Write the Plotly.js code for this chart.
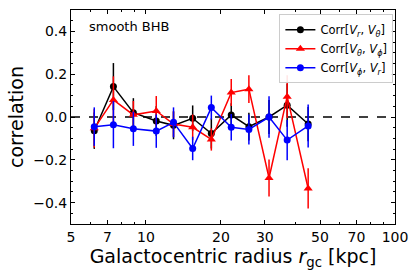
<!DOCTYPE html>
<html>
<head>
<meta charset="utf-8">
<script src="https://cdn.plot.ly/plotly-3.0.1.min.js"></script>
<style>html,body{margin:0;padding:0;background:#fff;}#plot{width:416px;height:278px;}</style>
</head>
<body>
<div id="plot"></div>
<script>
const radius = [6.2, 7.4, 8.9, 11.0, 12.9, 15.4, 18.3, 22.0, 25.9, 31.2, 36.9, 44.8];

const corrRT = [-0.064, 0.142, 0.020, -0.019, -0.039, -0.006, -0.077, 0.009, -0.045, 0.000, 0.055, -0.033];
const errRT  = [0.085, 0.110, 0.068, 0.070, 0.065, 0.060, 0.070, 0.055, 0.065, 0.080, 0.100, 0.080];

const corrTP = [-0.053, 0.080, 0.010, 0.028, -0.033, -0.048, -0.105, 0.114, 0.130, -0.285, 0.095, -0.334];
const errTP  = [0.090, 0.110, 0.065, 0.070, 0.060, 0.060, 0.052, 0.063, 0.065, 0.086, 0.100, 0.094];

const corrPR = [-0.045, -0.036, -0.055, -0.066, -0.025, -0.147, 0.044, -0.048, -0.058, 0.000, -0.108, -0.042];
const errPR  = [0.090, 0.110, 0.080, 0.078, 0.070, 0.055, 0.056, 0.062, 0.070, 0.097, 0.094, 0.100];

const xTicks = [5, 7, 10, 20, 30, 50, 70, 100];
const xMinor = [6, 8, 9, 40, 60, 80, 90];
const yTicks = [-0.4, -0.2, 0.0, 0.2, 0.4];

const names = [
  'Corr[<i>V<sub>r</sub></i>, <i>V<sub>θ</sub></i>]',
  'Corr[<i>V<sub>θ</sub></i>, <i>V<sub>ϕ</sub></i>]',
  'Corr[<i>V<sub>ϕ</sub></i>, <i>V<sub>r</sub></i>]'
];

function series(y, err, name, color, symbol, size) {
  return {
    x: radius, y: y, name: name, type: 'scatter', mode: 'lines+markers',
    line: {color: color, width: 1.5},
    marker: {color: color, symbol: symbol, size: size},
    error_y: {type: 'data', array: err, visible: true, color: color, thickness: 1.5, width: 0}
  };
}

const data = [
  series(corrRT, errRT, names[0], 'black', 'circle', 7),
  series(corrTP, errTP, names[1], 'red', 'triangle-up', 8),
  series(corrPR, errPR, names[2], 'blue', 'circle', 7)
];

const FF = 'DejaVu Sans, sans-serif';

const layout = {
  width: 416, height: 278,
  margin: {l: 71, r: 21, t: 10, b: 54},
  paper_bgcolor: 'white', plot_bgcolor: 'white',
  font: {family: FF, color: 'black'},
  showlegend: true,
  legend: {
    x: 0.995, y: 0.98, xanchor: 'right', yanchor: 'top',
    bgcolor: 'rgba(255,255,255,0.9)', bordercolor: '#cccccc', borderwidth: 1,
    font: {family: FF, size: 11.5, color: 'black'},
    tracegroupgap: 0, itemwidth: 30
  },
  xaxis: {
    type: 'log', range: [Math.log10(5), 2],
    tickmode: 'array', tickvals: xTicks, ticktext: xTicks.map(String),
    ticks: 'inside', ticklen: 4, tickwidth: 1, tickcolor: 'black',
    showline: true, linecolor: 'black', linewidth: 1, mirror: 'allticks',
    showgrid: false, zeroline: false,
    tickfont: {family: FF, size: 14, color: 'black'},
    minor: {tickmode: 'array', tickvals: xMinor, ticks: 'inside', ticklen: 2, tickcolor: 'black', showgrid: false},
    title: {text: 'Galactocentric radius <i>r</i><sub>gc</sub> [kpc]', font: {family: FF, size: 19, color: 'black'}, standoff: 2}
  },
  yaxis: {
    range: [-0.5, 0.5],
    tickmode: 'array', tickvals: yTicks, ticktext: yTicks.map(v => (v < 0 ? '−' : '') + Math.abs(v).toFixed(1)),
    ticks: 'inside', ticklen: 4, tickwidth: 1, tickcolor: 'black',
    showline: true, linecolor: 'black', linewidth: 1, mirror: 'allticks',
    showgrid: false, zeroline: false,
    tickfont: {family: FF, size: 14, color: 'black'},
    minor: {dtick: 0.05, tick0: 0, ticks: 'inside', ticklen: 2, tickcolor: 'black', showgrid: false},
    title: {text: 'correlation', font: {family: FF, size: 19, color: 'black'}, standoff: 4}
  },
  shapes: [{
    type: 'line', xref: 'paper', yref: 'y', x0: 0, x1: 1, y0: 0, y1: 0,
    line: {color: 'black', width: 1.5, dash: 'dash'}, layer: 'below'
  }],
  annotations: [{
    text: 'smooth BHB', xref: 'paper', yref: 'paper', x: 0.05, y: 0.925,
    xanchor: 'left', yanchor: 'middle', showarrow: false,
    font: {family: FF, size: 13, color: 'black'}
  }]
};

Plotly.newPlot('plot', data, layout, {staticPlot: true, displayModeBar: false});
</script>
</body>
</html>
